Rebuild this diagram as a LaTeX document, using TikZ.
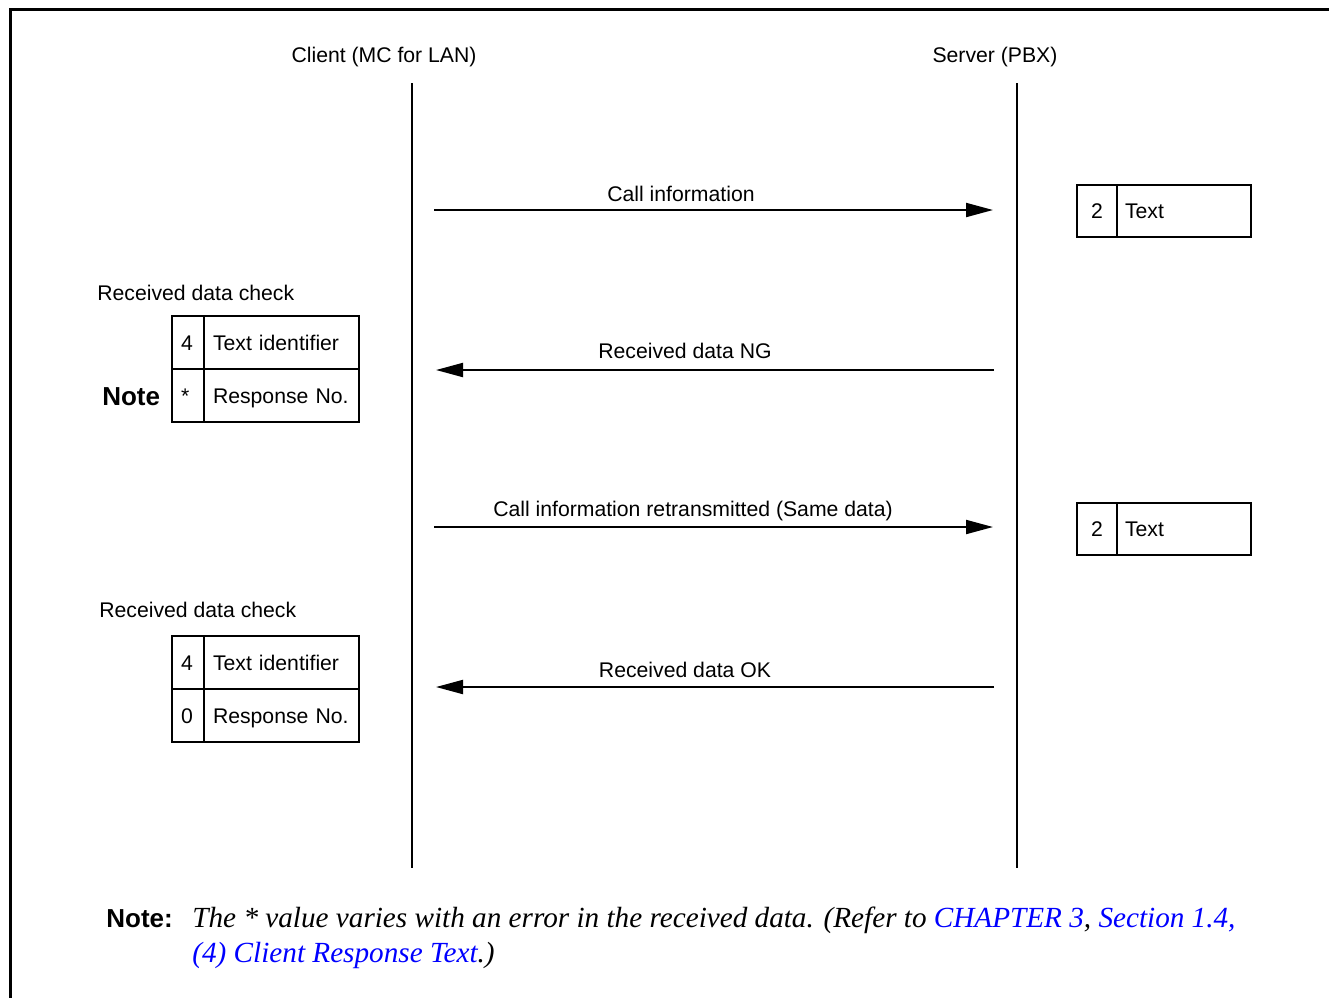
\documentclass[tikz,border=0pt]{standalone}
\usepackage{fontspec}
\setmainfont{Liberation Sans}
\newfontfamily\serifit{Liberation Serif}
\usetikzlibrary{arrows.meta}
\begin{document}
\begin{tikzpicture}[x=0.5pt,y=-0.5pt,
 every node/.style={font=\fontsize{10.6}{12.7}\selectfont, inner sep=0pt},
 lab/.style={anchor=base},
 life/.style={line width=1pt},
 msg/.style={line width=1pt,-{Triangle[length=13.5pt,width=7pt]}},
 cell/.style={draw,line width=1pt,text height=7.6pt,text depth=0pt},
 lnum/.style={cell,minimum width=16pt,minimum height=26.5pt,inner xsep=4.5pt,text width=7pt,align=left},
 ltxt/.style={cell,minimum height=26.5pt,inner xsep=4.5pt,text width=68.5pt,align=left},
 rnum/.style={cell,minimum width=20pt,minimum height=26pt},
 rtxt/.style={cell,minimum height=26pt,inner xsep=4pt,text width=59pt,align=left},
 boldnote/.style={font=\fontsize{13}{15}\selectfont\bfseries},
 footit/.style={anchor=base west,font=\fontsize{14.6}{17}\serifit\itshape}
]
\useasboundingbox (0,0) rectangle (1329,998);
% frame
\draw[line width=1.35pt] (1329,9.5) -- (10.3,9.5) -- (10.3,998);

% headers
\node[lab] (client) at (384,62) {Client (MC for LAN)};
\node[lab] (server) at (995,62) {Server (PBX)};

% lifelines
\coordinate (ct) at (412,83); \coordinate (cb) at (412,868);
\coordinate (st) at (1017,83); \coordinate (sb) at (1017,868);
\draw[life] (ct) -- (cb);
\draw[life] (st) -- (sb);

% messages
\coordinate (m1a) at (434,210); \coordinate (m1b) at (993,210);
\draw[msg] (m1a) -- (m1b);
\node[lab] (l1) at (681,201) {Call information};

\coordinate (m2a) at (994,370); \coordinate (m2b) at (436,370);
\draw[msg] (m2a) -- (m2b);
\node[lab] (l2) at (685,358.5) {Received data NG};

\coordinate (m3a) at (434,527); \coordinate (m3b) at (993,527);
\draw[msg] (m3a) -- (m3b);
\node[lab] (l3) at (693,516) {Call information retransmitted (Same data)};

\coordinate (m4a) at (994,687); \coordinate (m4b) at (436,687);
\draw[msg] (m4a) -- (m4b);
\node[lab] (l4) at (685,677.5) {Received data OK};

% right boxes
\node[rnum] (r1n) at (1097,211) {2};
\node[rtxt] (r1t) at (1184,211) {Text};
\node[rnum] (r2n) at (1097,529) {2};
\node[rtxt] (r2t) at (1184,529) {Text};

% left box 1
\node[anchor=base west] (chk1) at (97,300.5) {Received data check};
\node[lnum] (a1n) at (188,342.5) {4};
\node[ltxt] (a1t) at (281.5,342.5) {Text identifier};
\node[lnum] (a2n) at (188,395.5) {*};
\node[ltxt] (a2t) at (281.5,395.5) {Response No.};
\node[boldnote,anchor=base east] (note1) at (160.5,405) {Note};

% left box 2
\node[anchor=base west] (chk2) at (99,617.5) {Received data check};
\node[lnum] (b1n) at (188,662.5) {4};
\node[ltxt] (b1t) at (281.5,662.5) {Text identifier};
\node[lnum] (b2n) at (188,715.5) {0};
\node[ltxt] (b2t) at (281.5,715.5) {Response No.};

% footer
\node[boldnote,anchor=base west] (fnote) at (106,927) {Note:};
\node[footit] (f1) at (192,927) {The * value varies with an error in the received data. (Refer to \textcolor{blue}{CHAPTER 3}, \textcolor{blue}{Section 1.4,}};
\node[footit] (f2) at (192,962) {\textcolor{blue}{(4) Client Response Text}.)};
\end{tikzpicture}
\end{document}
